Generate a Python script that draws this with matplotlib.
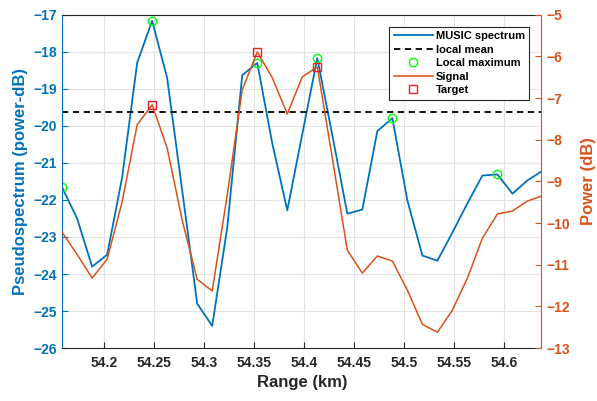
import matplotlib.pyplot as plt
import numpy as np

plt.rcParams['font.family'] = ['Liberation Sans', 'DejaVu Sans']
plt.rcParams['font.weight'] = 'bold'

# range bins (km)
rng = [54.158, 54.173, 54.188, 54.203, 54.218, 54.233, 54.248, 54.263, 54.278,
       54.293, 54.308, 54.323, 54.338, 54.353, 54.368, 54.383, 54.398, 54.413,
       54.428, 54.443, 54.458, 54.473, 54.488, 54.503, 54.518, 54.533, 54.548,
       54.563, 54.578, 54.593, 54.608, 54.623, 54.637]

# MUSIC pseudospectrum (power-dB)
music = [-21.66, -22.50, -23.80, -23.48, -21.39, -18.30, -17.16, -18.71, -21.74,
         -24.80, -25.40, -22.75, -18.63, -18.30, -20.47, -22.28, -20.22, -18.17,
         -20.25, -22.37, -22.26, -20.14, -19.79, -22.01, -23.50, -23.64, -22.88,
         -22.09, -21.34, -21.31, -21.83, -21.47, -21.23]

# signal power (dB)
signal = [-10.22, -10.75, -11.32, -10.87, -9.49, -7.64, -7.16, -8.20, -9.93,
          -11.35, -11.63, -9.33, -6.80, -5.89, -6.51, -7.38, -6.49, -6.25,
          -8.44, -10.65, -11.20, -10.79, -10.91, -11.61, -12.43, -12.62, -12.09,
          -11.32, -10.36, -9.78, -9.71, -9.47, -9.35]

local_mean = -19.63
peak_idx = [0, 6, 13, 17, 22, 29]
target_idx = [6, 13, 17]

xticks = [54.2, 54.25, 54.3, 54.35, 54.4, 54.45, 54.5, 54.55, 54.6]
xticklabels = ['54.2', '54.25', '54.3', '54.35', '54.4', '54.45', '54.5', '54.55', '54.6']
yticks_l = [-26, -25, -24, -23, -22, -21, -20, -19, -18, -17]
yticks_r = [-13, -12, -11, -10, -9, -8, -7, -6, -5]

blue = '#0072BD'
orange = '#D95319'
dark = '#262626'

fig = plt.figure(figsize=(5.97, 4.01), dpi=100)
ax = fig.add_axes([0.104, 0.132, 0.803, 0.831])
ax2 = ax.twinx()

x = np.array(rng)
m = np.array(music)
s = np.array(signal)

h1, = ax.plot(x, m, '-', color=blue, lw=1.3, label='MUSIC spectrum')
h2, = ax.plot([x[0], x[-1]], [local_mean, local_mean], '--', color='k', lw=1.3,
              dashes=(3.5, 2.5), label='local mean')
h3, = ax.plot(x[peak_idx], m[peak_idx], 'o', mfc='none', mec='#00FF00', mew=1.0,
              ms=6, label='Local maximum')
h4, = ax2.plot(x, s, '-', color=orange, lw=1.1, label='Signal')
h5, = ax2.plot(x[target_idx], s[target_idx], 's', mfc='none', mec='#E8202A', mew=1.0,
               ms=6, label='Target')

ax.set_xlim(rng[0], rng[-1])
ax.set_ylim(-26, -17)
ax2.set_ylim(-13, -5)
ax.set_xticks(xticks)
ax.set_xticklabels(xticklabels)
ax.set_yticks(yticks_l)
ax2.set_yticks(yticks_r)

ax.grid(True, color='#E3E3E3', lw=0.8)
ax.set_axisbelow(True)

ax.tick_params(axis='x', direction='in', length=4, colors=dark, labelsize=10, pad=6)
ax.tick_params(axis='y', direction='in', length=4, colors=blue, labelsize=10)
ax2.tick_params(axis='y', direction='in', length=4, colors=orange, labelsize=10)

ax.spines['left'].set_color(blue)
ax.spines['right'].set_visible(False)
ax.spines['top'].set_color(dark)
ax.spines['bottom'].set_color(dark)
ax2.spines['right'].set_color(orange)
ax2.spines['left'].set_visible(False)
ax2.spines['top'].set_visible(False)
ax2.spines['bottom'].set_visible(False)
for sp in ax.spines.values():
    sp.set_linewidth(0.8)
ax2.spines['right'].set_linewidth(0.8)

ax.set_xlabel('Range (km)', fontsize=12, fontweight='bold', color=dark, labelpad=3)
ax.set_ylabel('Pseudospectrum (power-dB)', fontsize=12, fontweight='bold', color=blue, labelpad=4)
ax2.set_ylabel('Power (dB)', fontsize=12, fontweight='bold', color=orange, labelpad=8)

leg = ax2.legend(handles=[h1, h2, h3, h4, h5], loc='upper right',
                 bbox_to_anchor=(0.975, 0.965), borderaxespad=0, fontsize=8,
                 handlelength=3.5, handletextpad=0.3, labelspacing=0.32,
                 borderpad=0.4, fancybox=False, framealpha=1, edgecolor=dark)
leg.get_frame().set_linewidth(0.8)

fig.savefig('out.png', dpi=100)
